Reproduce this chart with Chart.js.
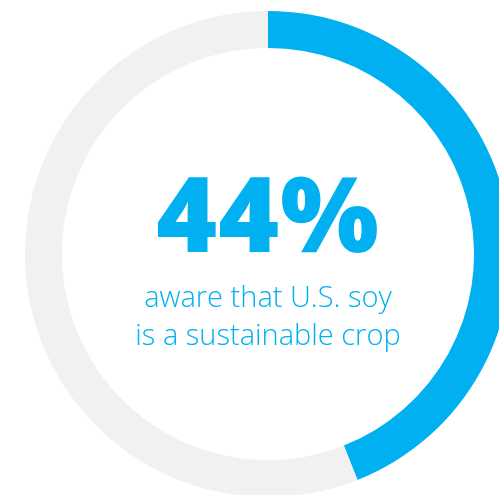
<!DOCTYPE html>
<html lang="en">
<head>
<meta charset="UTF-8">
<title>Awareness of U.S. soy sustainability</title>
<script src="https://cdn.jsdelivr.net/npm/chart.js"></script>
<style>
  html, body { margin: 0; padding: 0; background: #fff; overflow: hidden; }
  body { width: 499px; height: 495px; position: relative; }
  #ring { position: absolute; left: 25px; top: 11px; width: 486px; height: 486px; }
  .label { position: absolute; left: 68px; width: 400px; text-align: center; color: #00b0f0; white-space: nowrap; }
  #big { top: 152px; font-family: "Open Sans", sans-serif; font-weight: 800; font-size: 104px; line-height: 120px; letter-spacing: 1px; }
  #sub { top: 277px; font-family: "Open Sans", sans-serif; font-weight: 300; font-size: 29px; line-height: 38px; }
</style>
</head>
<body>
<div id="ring"><canvas id="donut" width="486" height="486"></canvas></div>
<div class="label" id="big"></div>
<div class="label" id="sub"></div>

<script>
  // share of respondents
  const segments = ['Aware', 'Not aware'];
  const shares = [44, 56];
  const caption = ['aware that U.S. soy', 'is a sustainable crop'];

  document.getElementById('big').textContent = shares[0] + '%';
  document.getElementById('sub').innerHTML = caption.join('<br>');

  new Chart(document.getElementById('donut'), {
    type: 'doughnut',
    data: {
      labels: segments,
      datasets: [{
        data: shares,
        backgroundColor: ['#00b0f0', '#f1f1f1'],
        borderWidth: 0
      }]
    },
    options: {
      responsive: false,
      animation: false,
      cutout: '84.8%',
      layout: { padding: 0 },
      plugins: {
        legend: { display: false },
        tooltip: { enabled: false }
      }
    }
  });
</script>
</body>
</html>
